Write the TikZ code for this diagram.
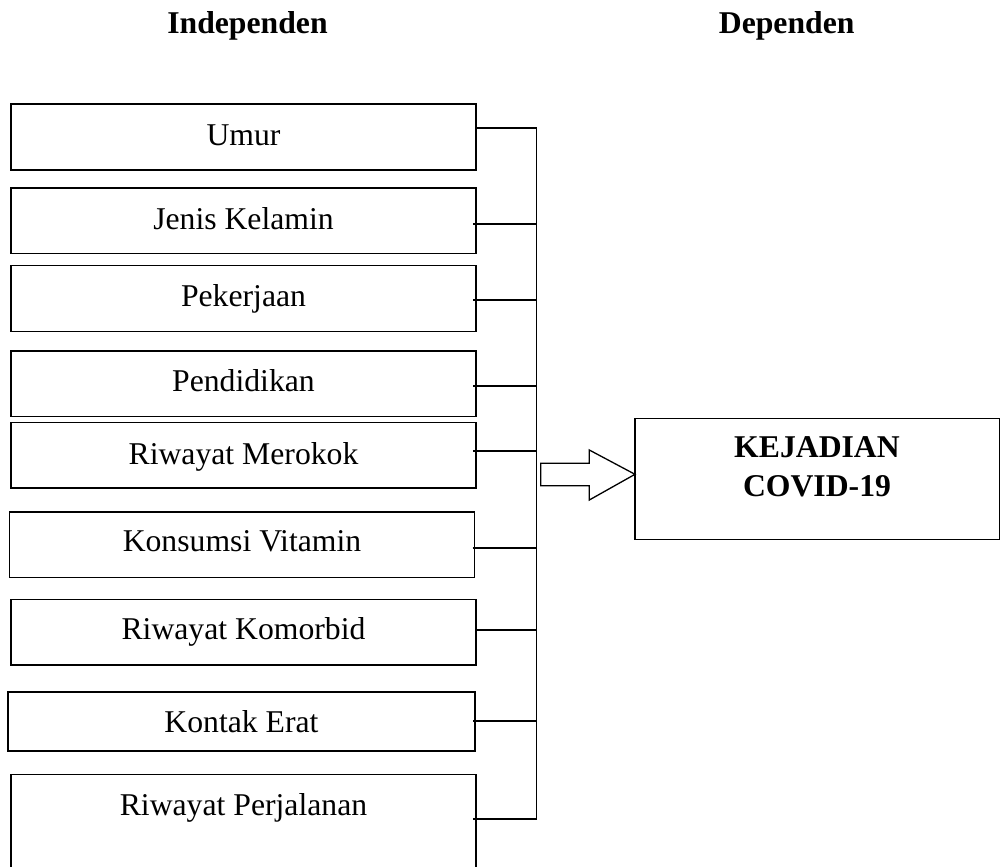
\documentclass[tikz,border=0pt]{standalone}
\usepackage{fontspec}
\setmainfont{Liberation Serif}
\usetikzlibrary{calc}
\begin{document}
\begin{tikzpicture}[x=1pt,y=-1pt,
  txt/.style={font=\fontsize{31.7}{39}\selectfont, inner sep=0pt, anchor=base},
  hdr/.style={font=\fontsize{31.7}{39}\selectfont\bfseries, inner sep=0pt},
  varbox/.style={draw, line width=1.6pt, minimum width=465pt, inner sep=0pt, outer sep=0pt, anchor=north},
  conn/.style={line width=1.6pt},
  blockarrow/.style={draw, line width=1.3pt, line join=miter}
]
\useasboundingbox (0,0) rectangle (1001,867);
% headers
\node[hdr, anchor=base] (hind) at (247.5,33.3) {Independen};
\node[hdr, anchor=base] (hdep) at (786.7,33.3) {Dependen};
% independent boxes
\node[varbox, minimum height=66pt] (umur) at (243.5,104) {};
\node[varbox, minimum height=65.3pt] (jenis) at (243.5,188) {};
\node[varbox, minimum height=66.2pt] (kerja) at (243.5,265.3) {};
\node[varbox, minimum height=65.8pt] (didik) at (243.5,350.7) {};
\node[varbox, minimum height=65.5pt] (rokok) at (243.5,422.5) {};
\node[varbox, minimum height=65.6pt] (vit) at (242,511.7) {};
\node[varbox, minimum height=65.7pt] (komor) at (243.5,599.3) {};
\node[varbox, minimum width=467pt, minimum height=59.3pt] (kontak) at (241.5,691.7) {};
\node[varbox, minimum height=94pt] (jalan) at (243.5,774.3) {};
\node[txt] (umurt) at ($(umur.north)+(0,41)$) {Umur};
\node[txt] (jenist) at ($(jenis.north)+(0,41)$) {Jenis Kelamin};
\node[txt] (kerjat) at ($(kerja.north)+(0,40.7)$) {Pekerjaan};
\node[txt] (didikt) at ($(didik.north)+(0,40.5)$) {Pendidikan};
\node[txt] (rokokt) at ($(rokok.north)+(0,41.5)$) {Riwayat Merokok};
\node[txt] (vitt) at ($(vit.north)+(0,40)$) {Konsumsi Vitamin};
\node[txt] (komort) at ($(komor.north)+(0,40)$) {Riwayat Komorbid};
\node[txt] (kontakt) at ($(kontak.north)+(0,40.6)$) {Kontak Erat};
\node[txt] (jalant) at ($(jalan.north)+(0,40.7)$) {Riwayat Perjalanan};
% bus coordinates
\coordinate (b1) at (536.5,127.7);
\coordinate (b2) at (536.5,224);
\coordinate (b3) at (536.5,300);
\coordinate (b4) at (536.5,386);
\coordinate (b5) at (536.5,451);
\coordinate (b6) at (536.5,547.7);
\coordinate (b7) at (536.5,630);
\coordinate (b8) at (536.5,720.7);
\coordinate (b9) at (536.5,819);
\draw[conn] (umur.east |- b1) -- (b1);
\draw[conn] ($(jenis.east |- b2)+(-3,0)$) -- (b2);
\draw[conn] ($(kerja.east |- b3)+(-3,0)$) -- (b3);
\draw[conn] ($(didik.east |- b4)+(-3,0)$) -- (b4);
\draw[conn] ($(rokok.east |- b5)+(-3,0)$) -- (b5);
\draw[conn] ($(vit.east |- b6)+(-2,0)$) -- (b6);
\draw[conn] (komor.east |- b7) -- (b7);
\draw[conn] ($(kontak.east |- b8)+(-2,0)$) -- (b8);
\draw[conn] ($(jalan.east |- b9)+(-3,0)$) -- (b9);
\draw[conn] (b1) -- (b9);
% dependent box
\node[draw, line width=1.6pt, minimum width=364.5pt, minimum height=121pt, inner sep=0pt, outer sep=0pt, anchor=north west] (dep) at (635,418.3) {};
\node[hdr, align=center] (dept) at (817,467) {KEJADIAN\\COVID-19};
% block arrow
\draw[blockarrow] (540.7,463.3) -- (589.3,463.3) -- (589.3,450) -- (dep.west |- 0,474.3) -- (589.3,500) -- (589.3,485.7) -- (540.7,485.7) -- cycle;
\end{tikzpicture}
\end{document}
